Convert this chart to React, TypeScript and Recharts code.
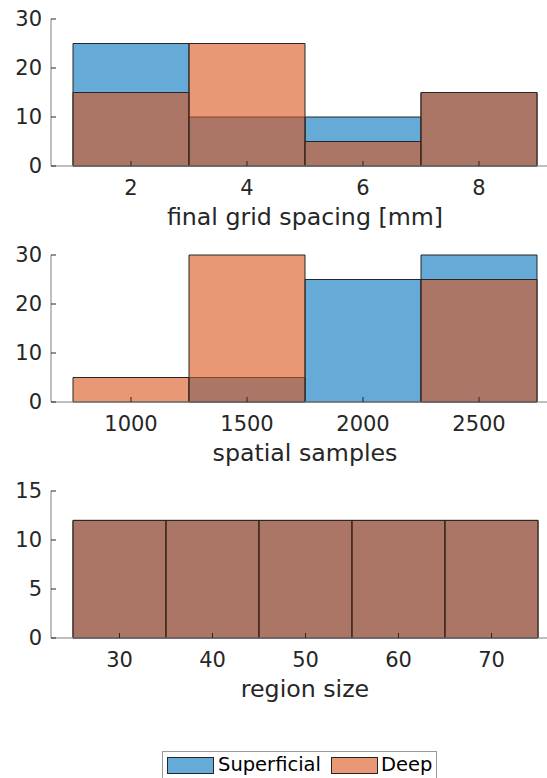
import React from 'react';
import { BarChart, Bar, XAxis, YAxis, Label, Legend } from 'recharts';

const gridSpacing = ['2', '4', '6', '8'];
const gridSuperficial = [25, 10, 10, 15];
const gridDeep = [15, 25, 5, 15];

const spatialSamples = ['1000', '1500', '2000', '2500'];
const samplesSuperficial = [0, 5, 25, 30];
const samplesDeep = [5, 30, 0, 25];

const regionSizes = ['30', '40', '50', '60', '70'];
const regionSuperficial = [12, 12, 12, 12, 12];
const regionDeep = [12, 12, 12, 12, 12];

const countTicks30 = [0, 10, 20, 30];
const countTicks15 = [0, 5, 10, 15];

const BLUE = '#0072BD';
const ORANGE = '#D95319';
const EDGE = '#262626';
const AXIS = '#808080';
const TEXT = '#262626';

const toRows = (bins: string[], sup: number[], deep: number[]) =>
  bins.map((bin, i) => ({ bin, superficial: sup[i], deep: deep[i] }));

const renderTitle = (props: any) => {
  const { viewBox, value } = props;
  return (
    <text
      x={viewBox.x + viewBox.width / 2}
      y={viewBox.y + 59}
      textAnchor="middle"
      fontSize={23.7}
      fill={TEXT}
    >
      {value}
    </text>
  );
};

const renderLegend = () => (
  <div
    style={{
      display: 'flex',
      alignItems: 'flex-start',
      boxSizing: 'border-box',
      width: 275,
      height: 36,
      border: '1px solid #9a9a9a',
      background: '#fff',
      paddingLeft: 4,
      paddingTop: 3,
      fontSize: 19.5,
      lineHeight: '20px',
      color: '#000',
    }}
  >
    <span style={{ marginTop: 2, width: 45, height: 15, border: `1px solid ${EDGE}`, background: 'rgba(0,114,189,0.6)' }} />
    <span style={{ marginLeft: 4 }}>Superficial</span>
    <span style={{ marginTop: 2, marginLeft: 10, width: 45, height: 15, border: `1px solid ${EDGE}`, background: 'rgba(217,83,25,0.6)' }} />
    <span style={{ marginLeft: 3 }}>Deep</span>
  </div>
);

interface PanelProps {
  data: { bin: string; superficial: number; deep: number }[];
  title: string;
  ticks: number[];
  padRight: number;
  withLegend?: boolean;
}

const Panel: React.FC<PanelProps> = ({ data, title, ticks, padRight, withLegend }) => {
  const max = ticks[ticks.length - 1];
  const pad = { left: 22, right: padRight };
  return (
    <BarChart
      width={559}
      height={withLegend ? 306 : 236}
      data={data}
      margin={{ top: 19, right: 0, left: 0, bottom: withLegend ? 70 : 0 }}
      barCategoryGap={0}
    >
      <XAxis xAxisId="deep" dataKey="bin" padding={pad} orientation="top" height={0} hide />
      <XAxis
        xAxisId="sup"
        dataKey="bin"
        height={70}
        padding={pad}
        stroke={AXIS}
        tickSize={-5}
        tickMargin={19}
        tick={{ fill: TEXT, fontSize: 21 }}
        tickLine={{ stroke: EDGE }}
      >
        <Label value={title} content={renderTitle} />
      </XAxis>
      <YAxis
        width={51}
        domain={[0, max]}
        ticks={ticks}
        interval={0}
        stroke={AXIS}
        tickSize={-5}
        tickMargin={14}
        tick={{ fill: TEXT, fontSize: 21 }}
        tickLine={{ stroke: EDGE }}
      />
      <Bar
        xAxisId="sup"
        dataKey="superficial"
        name="Superficial"
        fill={BLUE}
        fillOpacity={0.6}
        stroke={EDGE}
        strokeWidth={1}
        isAnimationActive={false}
      />
      <Bar
        xAxisId="deep"
        dataKey="deep"
        name="Deep"
        fill={ORANGE}
        fillOpacity={0.6}
        stroke={EDGE}
        strokeWidth={1}
        isAnimationActive={false}
      />
      {withLegend && (
        <Legend
          layout="horizontal"
          verticalAlign="middle"
          align="center"
          content={renderLegend}
          wrapperStyle={{ left: 162, top: 279, width: 275 }}
        />
      )}
    </BarChart>
  );
};

export default function App() {
  return (
    <div
      style={{
        position: 'absolute',
        left: 0,
        top: 0,
        width: 547,
        height: 778,
        overflow: 'hidden',
        background: '#fff',
        fontFamily: '"DejaVu Sans", sans-serif',
      }}
    >
      <div style={{ position: 'absolute', left: 0, top: 0 }}>
        <Panel data={toRows(gridSpacing, gridSuperficial, gridDeep)} title="final grid spacing [mm]" ticks={countTicks30} padRight={22} />
      </div>
      <div style={{ position: 'absolute', left: 0, top: 236 }}>
        <Panel data={toRows(spatialSamples, samplesSuperficial, samplesDeep)} title="spatial samples" ticks={countTicks30} padRight={22} />
      </div>
      <div style={{ position: 'absolute', left: 0, top: 472 }}>
        <Panel data={toRows(regionSizes, regionSuperficial, regionDeep)} title="region size" ticks={countTicks15} padRight={21} withLegend />
      </div>
    </div>
  );
}
